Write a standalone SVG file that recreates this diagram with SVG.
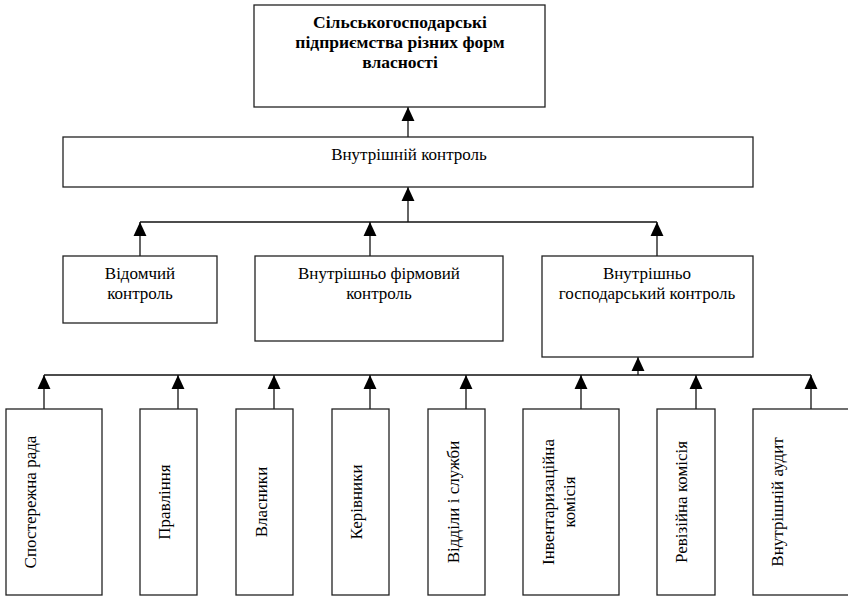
<svg xmlns="http://www.w3.org/2000/svg" width="848" height="596" viewBox="0 0 848 596">
<defs>
<marker id="ah" markerUnits="userSpaceOnUse" markerWidth="14" markerHeight="14" viewBox="0 0 13 12" refX="13" refY="6" orient="auto">
<path d="M0,0 L13,6 L0,12 z" fill="#000"/>
</marker>
<style>
.box{fill:#fff;stroke:#222;stroke-width:1.3}
.t{font-family:"Liberation Serif","Times New Roman",serif;font-size:17px;fill:#000;text-anchor:middle}
.b{font-weight:bold;font-size:17.5px}
.c{fill:none;stroke:#111;stroke-width:1.3}
.a{marker-end:url(#ah)}
</style>
</defs>
<rect width="848" height="596" fill="#fff"/>
<g id="connectors">
<path class="c a" d="M408,137 V107"/>
<path class="c a" d="M408,222 V187"/>
<path class="c" d="M140,222 H657"/>
<path class="c a" d="M140,256 V222"/>
<path class="c a" d="M370,256 V222"/>
<path class="c a" d="M657,256 V222"/>
<path class="c a" d="M638,375 V357"/>
<path class="c" d="M44,375 H811"/>
<path class="c a" d="M44,409 V375"/>
<path class="c a" d="M178,409 V375"/>
<path class="c a" d="M274,409 V375"/>
<path class="c a" d="M370,409 V375"/>
<path class="c a" d="M466,409 V375"/>
<path class="c a" d="M581,409 V375"/>
<path class="c a" d="M696,409 V375"/>
<path class="c a" d="M811,409 V375"/>
</g>
<g id="n-top">
<rect class="box" x="254" y="5" width="291" height="102"/>
<text class="t b" x="400" y="28">Сільськогосподарські</text>
<text class="t b" x="400" y="48">підприємства різних форм</text>
<text class="t b" x="400" y="68">власності</text>
</g>
<g id="n-internal">
<rect class="box" x="63" y="137" width="690" height="50"/>
<text class="t" x="409" y="160">Внутрішній контроль</text>
</g>
<g id="n-vidomchyi">
<rect class="box" x="63" y="256" width="154" height="67"/>
<text class="t" x="140" y="279">Відомчий</text>
<text class="t" x="140" y="299">контроль</text>
</g>
<g id="n-firm">
<rect class="box" x="255" y="256" width="248" height="85"/>
<text class="t" x="379" y="279">Внутрішньо фірмовий</text>
<text class="t" x="379" y="299">контроль</text>
</g>
<g id="n-gosp">
<rect class="box" x="542" y="256" width="211" height="101"/>
<text class="t" x="647" y="279">Внутрішньо</text>
<text class="t" x="647" y="299">господарський контроль</text>
</g>
<g id="n-b1">
<rect class="box" x="6" y="409" width="96" height="186"/>
<text class="t" transform="translate(36,502) rotate(-90)">Спостережна рада</text>
</g>
<g id="n-b2">
<rect class="box" x="140" y="409" width="57" height="186"/>
<text class="t" transform="translate(170,502) rotate(-90)">Правління</text>
</g>
<g id="n-b3">
<rect class="box" x="236" y="409" width="57" height="186"/>
<text class="t" transform="translate(267,502) rotate(-90)">Власники</text>
</g>
<g id="n-b4">
<rect class="box" x="332" y="409" width="57" height="186"/>
<text class="t" transform="translate(362,502) rotate(-90)">Керівники</text>
</g>
<g id="n-b5">
<rect class="box" x="428" y="409" width="57" height="186"/>
<text class="t" transform="translate(459,502) rotate(-90)">Відділи і служби</text>
</g>
<g id="n-b6">
<rect class="box" x="523" y="409" width="96" height="186"/>
<text class="t" transform="translate(554,502) rotate(-90)">Інвентаризаційна</text>
<text class="t" transform="translate(575,502) rotate(-90)">комісія</text>
</g>
<g id="n-b7">
<rect class="box" x="657" y="409" width="58" height="186"/>
<text class="t" transform="translate(687,502) rotate(-90)">Ревізійна комісія</text>
</g>
<g id="n-b8">
<rect class="box" x="753" y="409" width="100" height="186"/>
<text class="t" transform="translate(783,502) rotate(-90)">Внутрішній аудит</text>
</g>
</svg>
